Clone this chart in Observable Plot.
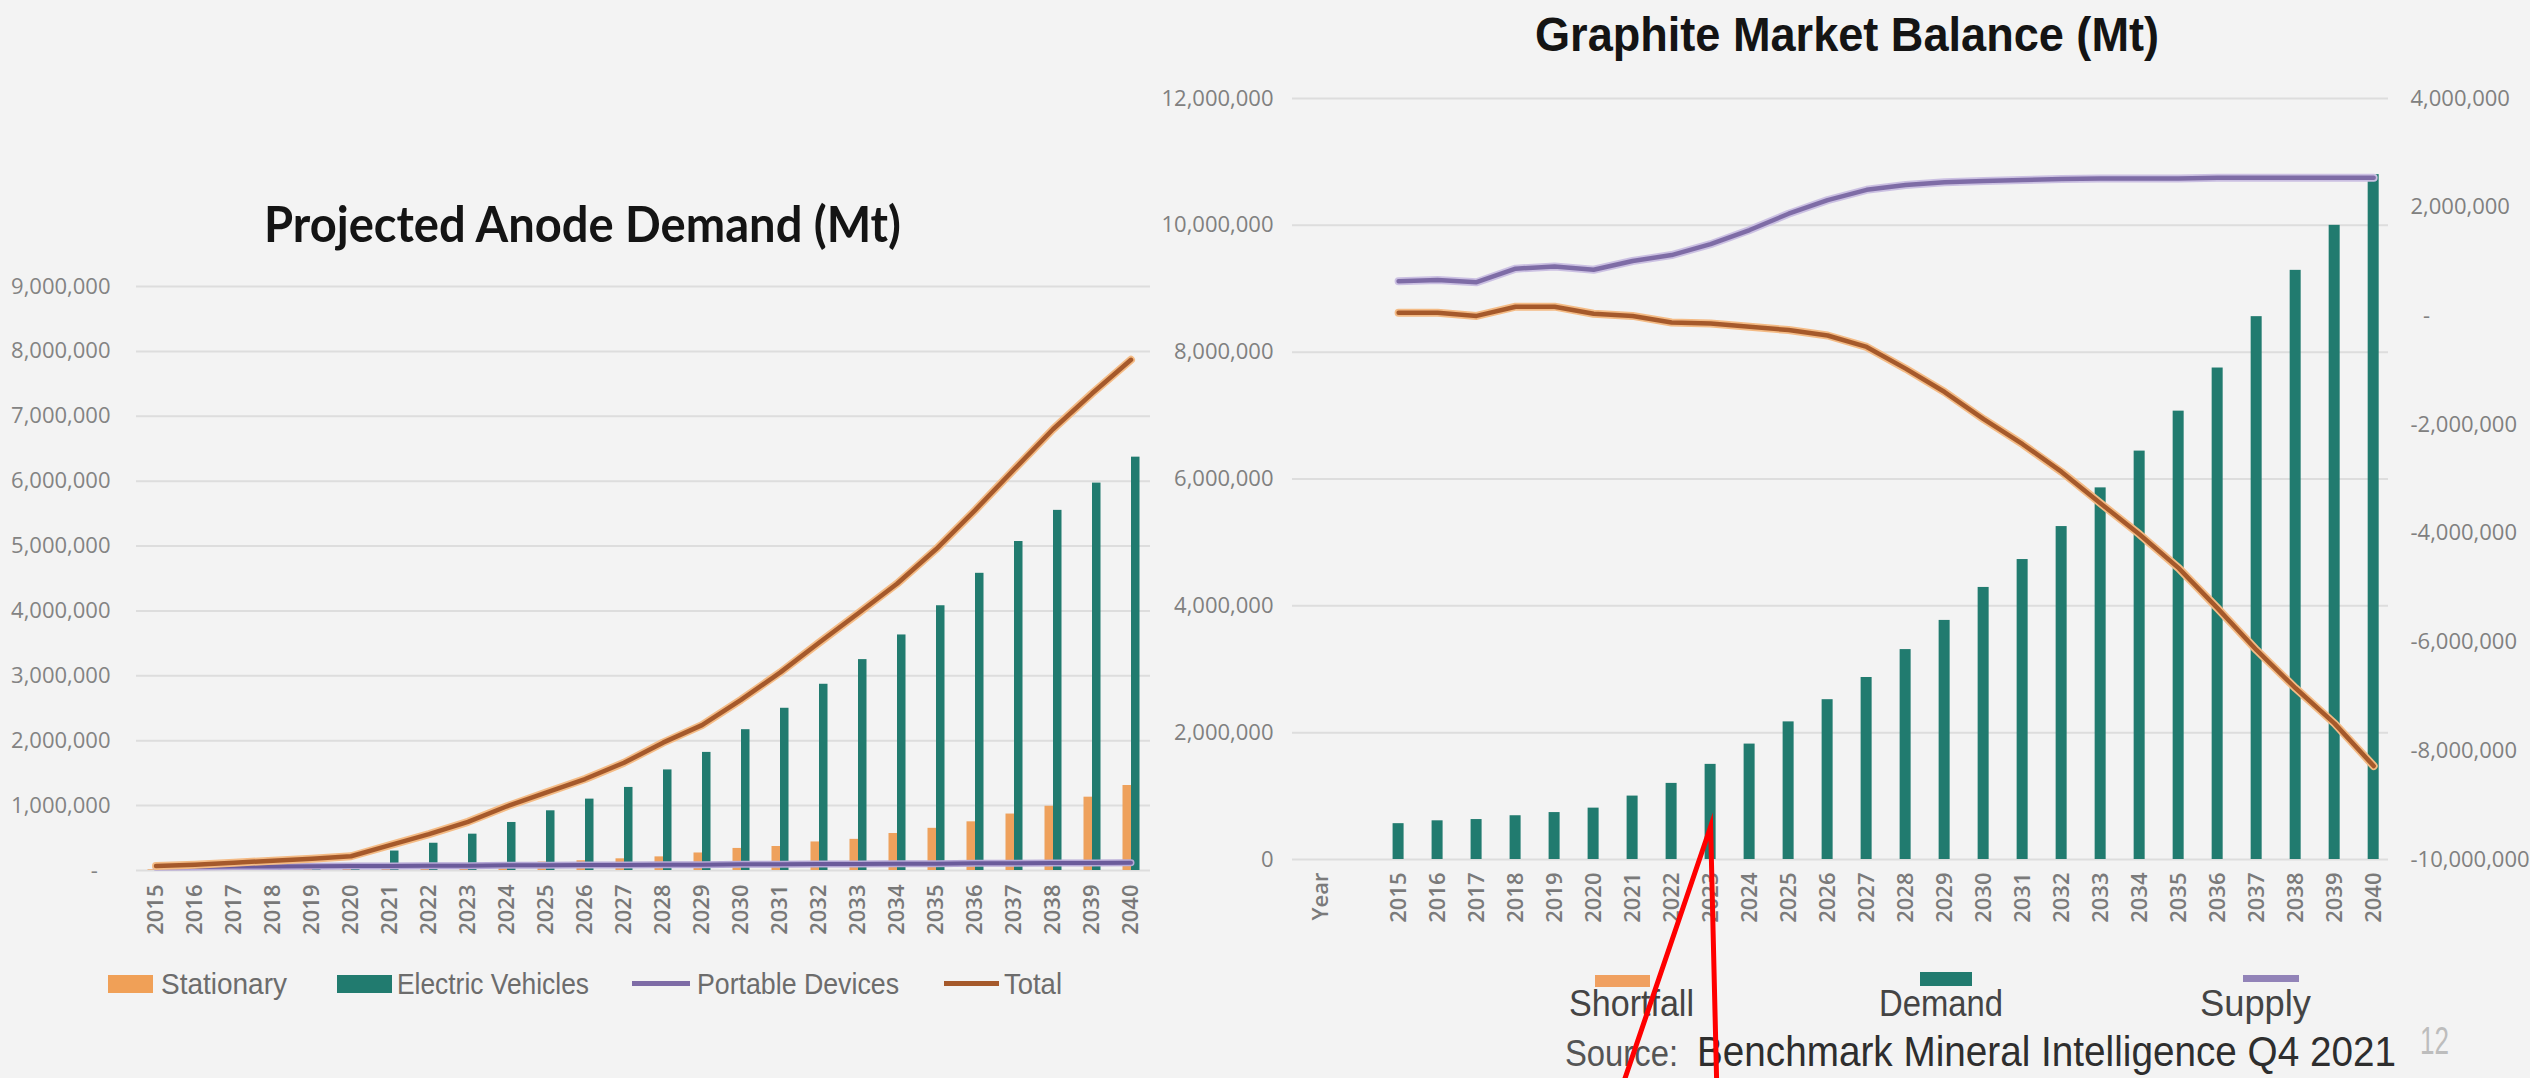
<!DOCTYPE html>
<html>
<head>
<meta charset="utf-8">
<script src="https://cdn.jsdelivr.net/npm/d3@7"></script>
<script src="https://cdn.jsdelivr.net/npm/@observablehq/plot@0.6"></script>
<style>
html, body { margin: 0; padding: 0; background: #f3f3f3; }
#page { position: relative; width: 2530px; height: 1078px; overflow: hidden; background: #f3f3f3; }
.abs { position: absolute; white-space: nowrap; line-height: 1.2; }
.plotbox { position: absolute; }
</style>
</head>
<body>
<div id="page"></div>
<script>
// ---------- Data: Projected Anode Demand (left chart) ----------
const years = ["2015","2016","2017","2018","2019","2020","2021","2022","2023","2024","2025","2026","2027",
               "2028","2029","2030","2031","2032","2033","2034","2035","2036","2037","2038","2039","2040"];
const stationary = [10000, 15000, 20000, 25000, 30000, 40000, 50000, 70000, 90000, 110000, 130000, 150000, 180000,
                    210000, 270000, 340000, 370000, 440000, 480000, 570000, 650000, 750000, 870000, 990000, 1130000, 1310000];
const electricVehicles = [40000, 50000, 60000, 70000, 80000, 100000, 300000, 420000, 560000, 740000, 920000, 1100000, 1280000,
                          1550000, 1820000, 2170000, 2500000, 2870000, 3250000, 3630000, 4080000, 4580000, 5070000, 5550000, 5970000, 6370000];
const portableDevices = [50000, 55000, 60000, 60000, 65000, 70000, 70000, 75000, 75000, 80000, 80000, 85000, 85000,
                         90000, 90000, 95000, 95000, 100000, 100000, 105000, 105000, 110000, 110000, 115000, 115000, 120000];
const totalDemand = [70000, 90000, 120000, 150000, 180000, 220000, 390000, 560000, 750000, 990000, 1200000, 1410000, 1660000,
                     1970000, 2240000, 2630000, 3050000, 3510000, 3960000, 4420000, 4950000, 5550000, 6180000, 6800000, 7350000, 7870000];
const leftYTicks = [0, 1000000, 2000000, 3000000, 4000000, 5000000, 6000000, 7000000, 8000000, 9000000];

// ---------- Data: Graphite Market Balance (right chart) ----------
const demand = [565000, 610000, 630000, 690000, 740000, 810000, 1000000, 1200000, 1500000, 1820000, 2170000, 2520000, 2870000,
                3310000, 3770000, 4290000, 4730000, 5250000, 5860000, 6440000, 7070000, 7750000, 8560000, 9290000, 10000000, 10800000];
const supply = [640000, 660000, 620000, 870000, 910000, 850000, 1010000, 1120000, 1320000, 1580000, 1880000, 2130000, 2320000,
                2410000, 2460000, 2480000, 2500000, 2520000, 2530000, 2530000, 2530000, 2540000, 2540000, 2540000, 2540000, 2540000];
const shortfall = [60000, 60000, 0, 170000, 170000, 40000, 0, -120000, -140000, -200000, -260000, -360000, -570000,
                   -970000, -1400000, -1900000, -2360000, -2870000, -3450000, -4020000, -4640000, -5380000, -6150000, -6850000, -7500000, -8280000];
const rightLeftTicks = [0, 2000000, 4000000, 6000000, 8000000, 10000000, 12000000];
const rightRightTicks = [4000000, 2000000, 0, -2000000, -4000000, -6000000, -8000000, -10000000];
const rightXLabels = ["Year", ...years];
const rightXPositions = [2013, ...years.map(Number)];
// red hand-drawn callout, in data units of the right chart (year, left-axis value)
const callout = [{year: 2020.7, value: -3640000}, {year: 2023, value: 520000}, {year: 2023.16, value: -3640000}];

// ---------- helpers ----------
const page = document.getElementById("page");
const fmtComma = d3.formatLocale({decimal: ".", thousands: ",", grouping: [3], currency: ["", ""], minus: "-"}).format(",");
const fmtDash = d => d === 0 ? "-\u2007" : fmtComma(d);

function label(text, {x, y, anchor = "start", size = 20, weight = 400, family = "Liberation Sans", color = "#333", fit = null}) {
  const d = document.createElement("div");
  d.className = "abs";
  d.style.fontSize = size + "px";
  d.style.fontWeight = weight;
  d.style.fontFamily = family;
  d.style.color = color;
  d.style.left = "0px"; d.style.top = "0px";
  d.textContent = text;
  const probe = document.createElement("span");
  probe.style.cssText = "display:inline-block;width:0;height:0;vertical-align:baseline;";
  d.appendChild(probe);
  page.appendChild(d);
  const base = probe.offsetTop;
  const w = d.getBoundingClientRect().width;
  const sx = fit ? fit / w : 1;
  const ww = w * sx;
  const left = anchor === "middle" ? x - ww / 2 : anchor === "end" ? x - ww : x;
  d.style.left = left + "px";
  d.style.top = (y - base) + "px";
  if (sx !== 1) { d.style.transformOrigin = "0 0"; d.style.transform = `scaleX(${sx})`; }
  return d;
}
function swatch({x, y, w, h, color}) {
  const s = document.createElement("div");
  s.className = "abs";
  s.style.cssText += `left:${x}px;top:${y}px;width:${w}px;height:${h}px;background:${color};`;
  page.appendChild(s);
}

// colours
const cOrange = "#eea15c", cTeal = "#217b6f", cPurple = "#7e6ca6", cBrown = "#a5592b";

// ---------- titles, legends, source ----------
label("Projected Anode Demand (Mt)", {x: 582, y: 242, anchor: "middle", size: 49, weight: 700, family: "Lato", color: "#141414", fit: 637});
label("Graphite Market Balance (Mt)", {x: 1847, y: 51, anchor: "middle", size: 48, weight: 700, family: "Liberation Sans", color: "#141414", fit: 624});

// left legend
swatch({x: 108, y: 975, w: 45, h: 18, color: "#f0a057"});
label("Stationary", {x: 161, y: 994, size: 29, color: "#6c6c6c", fit: 126});
swatch({x: 337, y: 975, w: 55, h: 18, color: cTeal});
label("Electric Vehicles", {x: 397, y: 994, size: 29, color: "#6c6c6c", fit: 192});
swatch({x: 632, y: 981, w: 58, h: 5, color: cPurple});
label("Portable Devices", {x: 697, y: 994, size: 29, color: "#6c6c6c", fit: 202});
swatch({x: 944, y: 981, w: 55, h: 5, color: cBrown});
label("Total", {x: 1004, y: 994, size: 29, color: "#6c6c6c", fit: 58});

// right legend
swatch({x: 1595, y: 975, w: 55, h: 12, color: "#f0a060"});
label("Shortfall", {x: 1631, y: 1016, anchor: "middle", size: 37, color: "#444", fit: 125});
swatch({x: 1920, y: 972, w: 52, h: 14, color: cTeal});
label("Demand", {x: 1941, y: 1016, anchor: "middle", size: 37, color: "#444", fit: 124});
swatch({x: 2243, y: 975, w: 56, h: 7, color: "#9283b8"});
label("Supply", {x: 2255, y: 1016, anchor: "middle", size: 37, color: "#444", fit: 111});

// source + page number
label("Source:", {x: 1565, y: 1066, size: 36, color: "#555", fit: 113});
label("Benchmark Mineral Intelligence Q4 2021", {x: 1697, y: 1066, size: 42, color: "#2e2e2e", fit: 699});
label("12", {x: 2420, y: 1054, size: 38, color: "#bdbdbd", fit: 29});

// ---------- left chart ----------
const leftData = years.map((y, i) => ({
  year: y, stationary: stationary[i], ev: electricVehicles[i], portable: portableDevices[i], total: totalDemand[i]
}));
const LT = 240, LW = 1160, LH = 720;
const lx0 = 136, lx1 = 1150;
const bw = (lx1 - lx0) / years.length;
const leftPlot = Plot.plot({
  width: LW, height: LH,
  marginLeft: lx0, marginRight: LW - lx1, marginTop: 286 - LT, marginBottom: LT + LH - 870,
  style: {background: "transparent", fontFamily: "Open Sans", fontSize: "22px", overflow: "visible"},
  x: {type: "band", domain: years, padding: 0},
  y: {domain: [0, 9000000]},
  marks: [
    Plot.gridY(leftYTicks, {stroke: "#dddddd", strokeOpacity: 1, strokeWidth: 2}),
    Plot.axisY(leftYTicks, {tickFormat: fmtDash, tickSize: 0, tickPadding: 26, fill: "#838383", label: null}),
    Plot.axisX({tickRotate: -90, tickSize: 0, tickPadding: 14, fill: "#787878", fontWeight: 600, label: null}),
    Plot.barY(leftData, {x: "year", y: "stationary", fill: cOrange, insetLeft: bw / 2 - 8, insetRight: bw / 2 - 1}),
    Plot.barY(leftData, {x: "year", y: "ev", fill: cTeal, insetLeft: bw / 2 + 0.5, insetRight: bw / 2 - 9}),
    Plot.line(leftData, {x: "year", y: "portable", stroke: "#b6a9d6", strokeWidth: 7}),
    Plot.line(leftData, {x: "year", y: "portable", stroke: "#6b5b9b", strokeWidth: 4}),
    Plot.line(leftData, {x: "year", y: "total", stroke: "#f4bb85", strokeWidth: 8}),
    Plot.line(leftData, {x: "year", y: "total", stroke: cBrown, strokeWidth: 4.5})
  ]
});
leftPlot.classList.add("plotbox");
leftPlot.style.left = "0px"; leftPlot.style.top = LT + "px";
page.appendChild(leftPlot);

// ---------- right chart ----------
const toLeft = v => (v + 10000000) * 12 / 14;      // right-axis value -> left-axis value
const fromLeft = v => v * 14 / 12 - 10000000;
const rightData = years.map((y, i) => ({
  year: +y, demand: demand[i], supply: toLeft(supply[i]), shortfall: toLeft(shortfall[i])
}));
const RL = 1160, RT = 60, RW = 1370, RH = 1018;
const rightPlot = Plot.plot({
  width: RW, height: RH,
  marginLeft: 1292 - RL, marginRight: RL + RW - 2388, marginTop: 98 - RT, marginBottom: RT + RH - 859,
  style: {background: "transparent", fontFamily: "Open Sans", fontSize: "22px", overflow: "visible"},
  x: {type: "linear", domain: [2012.28, 2040.38]},
  y: {domain: [0, 12000000]},
  marks: [
    Plot.gridY(rightLeftTicks, {stroke: "#dddddd", strokeOpacity: 1, strokeWidth: 2}),
    Plot.axisY(rightLeftTicks, {tickFormat: fmtComma, tickSize: 0, tickPadding: 19, fill: "#808080", label: null}),
    Plot.axisY(rightRightTicks.map(toLeft), {anchor: "right", tickFormat: v => fmtDash(Math.round(fromLeft(v))).replace(/^-\u2007$/, "\u2007-"),
      tickSize: 0, tickPadding: 22, fill: "#808080", label: null}),
    Plot.axisX(rightXPositions, {tickFormat: (d, i) => rightXLabels[i], tickRotate: -90, tickSize: 0, tickPadding: 13,
      fill: "#7a7a7a", fontWeight: 600, label: null}),
    Plot.rectY(rightData, {x1: d => d.year - 0.5, x2: d => d.year + 0.5, y: "demand", fill: cTeal, insetLeft: 14, insetRight: 14}),
    Plot.line(rightData, {x: "year", y: "supply", stroke: "#cbc0e2", strokeWidth: 8}),
    Plot.line(rightData, {x: "year", y: "supply", stroke: cPurple, strokeWidth: 4.5}),
    Plot.line(rightData, {x: "year", y: "shortfall", stroke: "#f4bb85", strokeWidth: 8}),
    Plot.line(rightData, {x: "year", y: "shortfall", stroke: cBrown, strokeWidth: 4.5}),
    Plot.line(callout, {x: "year", y: "value", stroke: "#ff0000", strokeWidth: 5, strokeLinejoin: "miter", strokeMiterlimit: 20})
  ]
});
rightPlot.classList.add("plotbox");
rightPlot.style.left = RL + "px"; rightPlot.style.top = RT + "px";
page.appendChild(rightPlot);
</script>
</body>
</html>
